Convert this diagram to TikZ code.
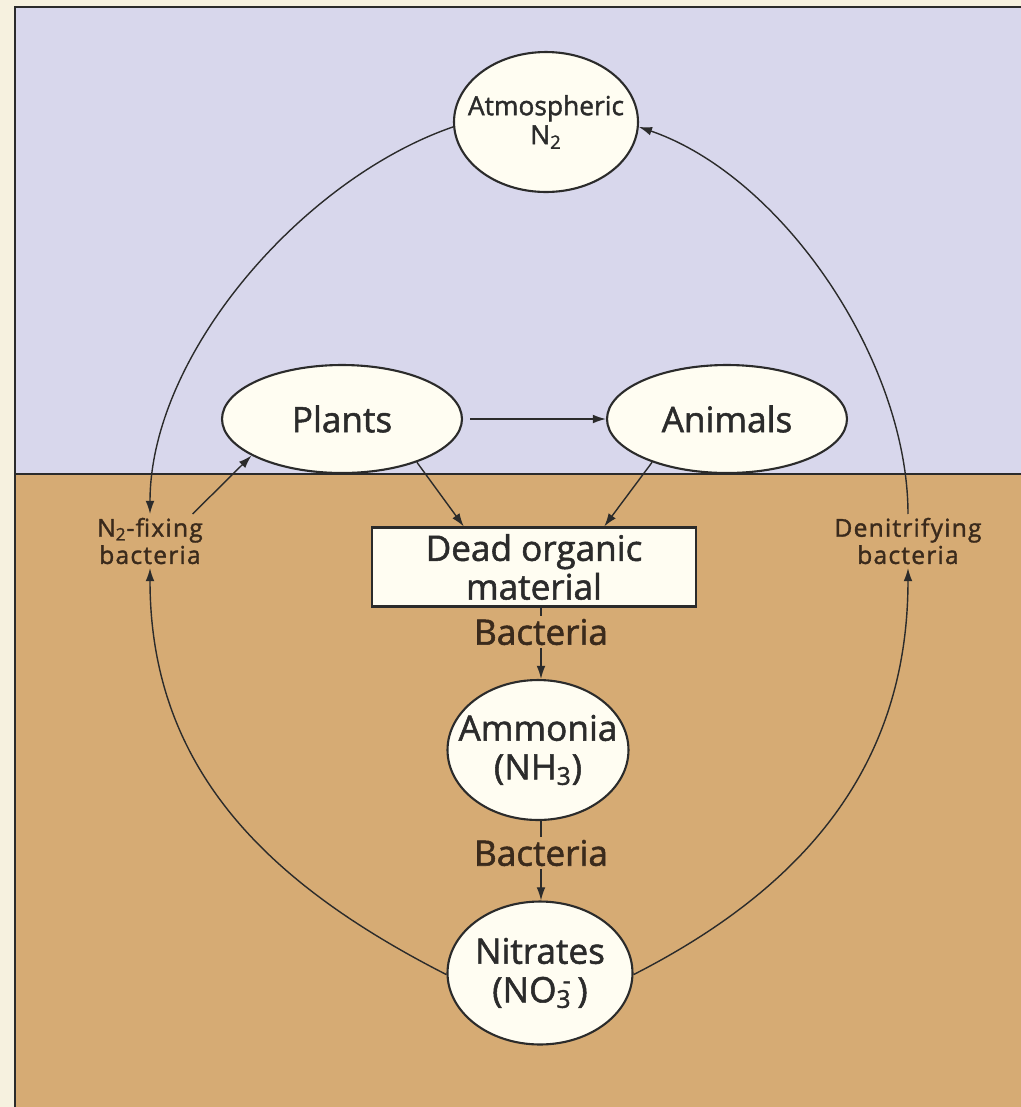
\documentclass[tikz,border=0pt]{standalone}
\usepackage{fontspec}
\setmainfont{Open Sans}[FakeBold=1.5]
\usepackage{tikz}
\usetikzlibrary{shapes.geometric, positioning, arrows.meta}

\definecolor{margincol}{HTML}{F6F1DF}
\definecolor{skycol}{HTML}{D8D7EC}
\definecolor{soilcol}{HTML}{D6AB74}
\definecolor{nodefill}{HTML}{FFFDF2}
\definecolor{inkcol}{HTML}{2B2B2B}
\definecolor{labelcol}{HTML}{3A2A1C}

\begin{document}
\begin{tikzpicture}[x=0.02cm, y=-0.02cm,
	pool/.style={ellipse, draw=inkcol, line width=1.2pt, fill=nodefill,
		inner xsep=-12pt, inner ysep=-8pt,
		text=inkcol, align=center, font=\fontsize{20}{22}\selectfont},
	store/.style={rectangle, draw=inkcol, line width=1.2pt, fill=nodefill, inner sep=0pt,
		text=inkcol, align=center, font=\fontsize{20}{22}\selectfont,
		minimum width=6.48cm, minimum height=1.58cm},
	agent/.style={text=labelcol, align=center, inner sep=2pt,
		font=\fontsize{14}{15.5}\selectfont\addfontfeature{LetterSpace=5}},
	stage/.style={text=labelcol, inner sep=1.5pt, font=\fontsize{20}{22}\selectfont},
	flow/.style={draw=inkcol, line width=0.8pt, -{Latex[length=7.5pt,width=5pt]}},
	tick/.style={draw=inkcol, line width=0.8pt}]
		\useasboundingbox (0,0) rectangle (1021,1107);
		% Draw sky and soil
		\fill[margincol] (0,0) rectangle (1021,1107);
		\fill[skycol] (15,7) rectangle (1021,474);
		\fill[soilcol] (15,474) rectangle (1021,1107);
		\draw[inkcol, line width=1.6pt] (15,1107) -- (15,7) -- (1021,7);
		\draw[inkcol, line width=1.1pt] (15,474) -- (1021,474);
		% Draw pools
		\node[pool, minimum width=3.68cm, minimum height=2.8cm,
			font=\fontsize{15}{16.5}\selectfont] (atmos) at (546,122) {Atmospheric\\N\textsubscript{2}};
		\node[pool, minimum width=4.8cm, minimum height=2.16cm] (plants) at (342,419) {Plants};
		\node[pool, minimum width=4.8cm, minimum height=2.16cm] (animals) at (727,419) {Animals};
		\node[store] (dead) at (534,567) {Dead organic\\material};
		\node[stage] (bac1) at (541,632) {Bacteria};
		\node[pool, minimum width=3.62cm, minimum height=2.8cm] (ammonia) at (538,750) {Ammonia\\(NH\textsubscript{3})};
		\node[stage] (bac2) at (541,853) {Bacteria};
		\node[pool, minimum width=3.7cm, minimum height=2.86cm] (nitrates) at (540,973) {Nitrates\\(NO\textsubscript{3}\llap{\textsuperscript{-}}\,)};
		% Draw bacteria labels
		\node[agent] (nfix) at (150,541) {N\textsubscript{2}-fixing\\bacteria};
		\node[agent] (denit) at (908,541) {Denitrifying\\bacteria};
		% Food chain
		\draw[flow, shorten <=4pt] (plants.east) -- (animals.west);
		\draw[flow] (plants.-30) -- (dead.150);
		\draw[flow] (animals.210) -- (dead.30);
		\draw[flow] ([xshift=-8pt]nfix.north east) -- (plants.202);
		% Decay
		\draw[tick] (bac1.north |- dead.south) -- (bac1.north);
		\draw[flow] (bac1.south) -- (bac1.south |- ammonia.north);
		\draw[tick] (bac2.north |- ammonia.south) -- (bac2.north);
		\draw[flow] (bac2.south) -- (bac2.south |- nitrates.north);
		% Big loop
		\draw[flow] (atmos.183) to[out=199, in=90, looseness=0.83] (nfix.north);
		\draw[flow] (nitrates.181) to[out=153, in=-90, looseness=1.02] (nfix.south);
		\draw[flow] (nitrates.-1) to[out=27, in=-90, looseness=1.02] (denit.south);
		\draw[flow] (denit.north) to[out=90, in=-19, looseness=0.83] (atmos.-3);
	\end{tikzpicture}
\end{document}
